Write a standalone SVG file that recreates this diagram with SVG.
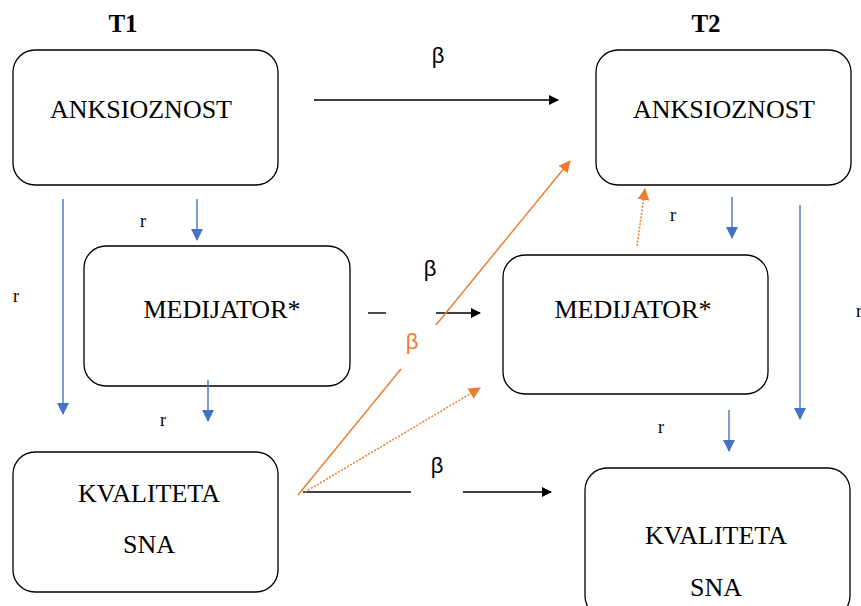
<svg xmlns="http://www.w3.org/2000/svg" width="861" height="606" viewBox="0 0 861 606">
<style>
.box{fill:#fff;stroke:#000;stroke-width:1.3}
text.t{font-family:'Liberation Serif','Times New Roman',serif;font-size:26px;fill:#000;text-anchor:middle}
text.h{font-family:'Liberation Serif','Times New Roman',serif;font-size:25px;font-weight:bold;fill:#000;text-anchor:middle}
text.r{font-family:'Liberation Serif','Times New Roman',serif;font-size:18px;fill:#000;text-anchor:middle}
text.b{font-family:'Liberation Sans',Arial,sans-serif;font-size:22px;fill:#000;text-anchor:middle}
.bk{stroke:#000;stroke-width:1.4;fill:none}
.bl{stroke:#4472C4;stroke-width:1.4;fill:none}
.or{stroke:#ED7D31;stroke-width:1.5;fill:none}
.od{stroke:#ED7D31;stroke-width:1.5;fill:none;stroke-dasharray:2 1.5}
</style>
<defs>
<marker id="ak" markerWidth="10" markerHeight="10" refX="9" refY="5" orient="auto" markerUnits="userSpaceOnUse"><path d="M0,0 L10,5 L0,10 Z" fill="#000"/></marker>
<marker id="ab" markerWidth="12" markerHeight="12" refX="11" refY="6" orient="auto" markerUnits="userSpaceOnUse"><path d="M0,0 L12,6 L0,12 Z" fill="#4472C4"/></marker>
<marker id="ao" markerWidth="12" markerHeight="12" refX="11" refY="6" orient="auto" markerUnits="userSpaceOnUse"><path d="M0,0 L12,6 L0,12 Z" fill="#ED7D31"/></marker>
</defs>
<rect width="861" height="606" fill="#fff"/>
<text class="h" x="123" y="32">T1</text>
<text class="h" x="706" y="32">T2</text>
<g id="anx1"><rect class="box" x="13" y="50" width="265" height="135" rx="22"/><text class="t" x="141" y="118">ANKSIOZNOST</text></g>
<g id="anx2"><rect class="box" x="596" y="50" width="255" height="135" rx="22"/><text class="t" x="724" y="118">ANKSIOZNOST</text></g>
<g id="med1"><rect class="box" x="84" y="246" width="266" height="140" rx="22"/><text class="t" x="222" y="318">MEDIJATOR*</text></g>
<g id="med2"><rect class="box" x="503" y="255" width="265" height="139" rx="22"/><text class="t" x="633" y="318">MEDIJATOR*</text></g>
<g id="sna1"><rect class="box" x="13" y="452" width="265" height="140" rx="22"/><text class="t" x="149" y="502">KVALITETA</text><text class="t" x="149" y="553">SNA</text></g>
<g id="sna2"><rect class="box" x="585" y="468" width="265" height="150" rx="22"/><text class="t" x="716" y="544">KVALITETA</text><text class="t" x="716" y="596">SNA</text></g>
<g id="connectors">
<line class="bk" x1="314" y1="100" x2="558" y2="100" marker-end="url(#ak)"/>
<line class="bk" x1="368" y1="313" x2="386" y2="313"/>
<line class="bk" x1="436" y1="313" x2="480" y2="313" marker-end="url(#ak)"/>
<line class="bk" x1="303" y1="492" x2="411" y2="492"/>
<line class="bk" x1="463" y1="492" x2="551" y2="492" marker-end="url(#ak)"/>
<line class="bl" x1="63" y1="199" x2="63" y2="414" marker-end="url(#ab)"/>
<line class="bl" x1="197" y1="199" x2="197" y2="240" marker-end="url(#ab)"/>
<line class="bl" x1="208" y1="380" x2="208" y2="421" marker-end="url(#ab)"/>
<line class="bl" x1="732" y1="197" x2="732" y2="238" marker-end="url(#ab)"/>
<line class="bl" x1="800" y1="205" x2="800" y2="419" marker-end="url(#ab)"/>
<line class="bl" x1="729" y1="410" x2="729" y2="451" marker-end="url(#ab)"/>
<line class="or" x1="298" y1="495" x2="401" y2="369"/>
<line class="or" x1="436" y1="325" x2="570" y2="161" marker-end="url(#ao)"/>
<line class="od" x1="305" y1="492" x2="480" y2="388" marker-end="url(#ao)"/>
<line class="od" x1="637" y1="246" x2="645" y2="189" marker-end="url(#ao)"/>
<text class="b" x="438" y="63">β</text>
<text class="b" x="430" y="276">β</text>
<text class="b" x="437" y="473">β</text>
<text class="b" x="412" y="349" style="fill:#ED7D31">β</text>
<text class="r" x="16" y="302">r</text>
<text class="r" x="143" y="227">r</text>
<text class="r" x="163" y="426">r</text>
<text class="r" x="673" y="221">r</text>
<text class="r" x="661" y="433">r</text>
<text class="r" x="859" y="317">r</text>
</g>
</svg>
